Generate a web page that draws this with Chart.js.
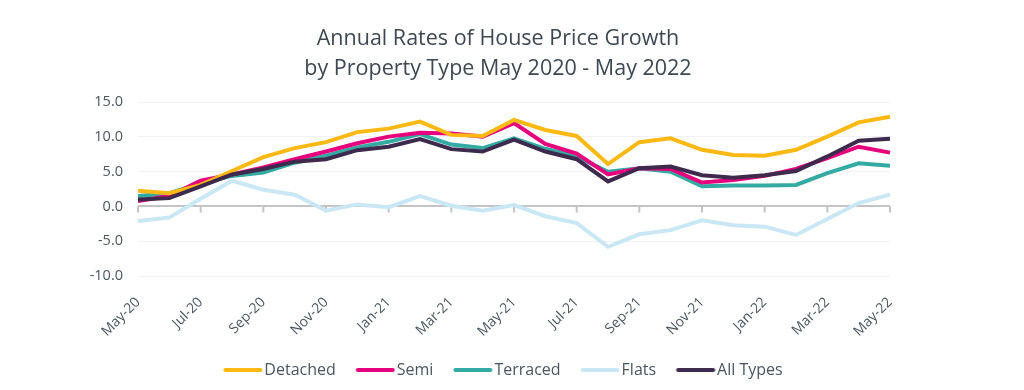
<!DOCTYPE html>
<html>
<head>
<meta charset="utf-8">
<script src="https://cdn.jsdelivr.net/npm/chart.js@4"></script>
<style>
html,body{margin:0;padding:0;background:#fff;}
#wrap{width:1024px;height:390px;}
</style>
</head>
<body>
<div id="wrap"><canvas id="c" width="1024" height="390"></canvas></div>
<script>
const months = ['May-20','Jun-20','Jul-20','Aug-20','Sep-20','Oct-20','Nov-20','Dec-20','Jan-21','Feb-21','Mar-21','Apr-21','May-21','Jun-21','Jul-21','Aug-21','Sep-21','Oct-21','Nov-21','Dec-21','Jan-22','Feb-22','Mar-22','Apr-22','May-22'];
const detached = [2.25,1.9,3.1,5.1,7.1,8.4,9.25,10.7,11.2,12.2,10.3,10.15,12.45,11.0,10.15,6.1,9.25,9.8,8.15,7.4,7.3,8.15,10.05,12.1,12.9];
const semi = [0.8,1.5,3.7,4.6,5.6,6.8,7.9,9.1,10.05,10.6,10.5,10.05,12.0,9.0,7.6,4.6,5.5,5.4,3.45,3.8,4.4,5.4,6.95,8.6,7.75];
const terraced = [1.5,1.9,3.3,4.4,4.9,6.3,7.3,8.5,9.3,10.4,8.9,8.4,9.8,8.3,7.2,5.0,5.5,5.0,2.9,3.0,3.0,3.1,4.8,6.2,5.85];
const flats = [-2.1,-1.6,1.1,3.7,2.4,1.7,-0.6,0.3,-0.1,1.5,0.1,-0.6,0.2,-1.4,-2.4,-5.8,-4.0,-3.4,-2.0,-2.7,-2.9,-4.1,-1.8,0.5,1.7];
const allTypes = [1.0,1.2,2.9,4.6,5.4,6.45,6.8,8.1,8.6,9.7,8.25,7.9,9.6,7.9,6.8,3.6,5.5,5.75,4.5,4.15,4.5,5.1,7.2,9.45,9.75];
const seriesNames = ['Detached','Semi','Terraced','Flats','All Types'];
const seriesColors = ['#FDB913','#E6007E','#33ABA3','#C9E8F4','#3E2A4C'];
const seriesOrder = [1,2,3,4,0];
const titleLines = ['Annual Rates of House Price Growth','by Property Type May 2020 - May 2022'];

const FONT = "'Open Sans', sans-serif";
const TXT = '#4a5660';

// legend swatch: a rounded bar, offset so the text sits close to it
function swatch(color) {
  const cv = document.createElement('canvas');
  cv.width = 56; cv.height = 6;
  const g = cv.getContext('2d');
  g.strokeStyle = color;
  g.lineWidth = 4;
  g.lineCap = 'round';
  g.beginPath();
  g.moveTo(18.5, 3);
  g.lineTo(53.5, 3);
  g.stroke();
  return cv;
}

const zeroTicks = {
  id: 'zeroTicks',
  beforeDatasetsDraw(chart) {
    const {ctx, scales:{x, y}} = chart;
    const y0 = y.getPixelForValue(0);
    ctx.save();
    ctx.strokeStyle = '#c4c4c4';
    ctx.lineWidth = 2;
    for (let i = 0; i < months.length; i += 2) {
      const px = x.getPixelForValue(i);
      ctx.beginPath();
      ctx.moveTo(px, y0);
      ctx.lineTo(px, y0 + 6);
      ctx.stroke();
    }
    ctx.restore();
  }
};

const datasets = [detached, semi, terraced, flats, allTypes].map((d, i) => ({
  label: seriesNames[i],
  data: d,
  borderColor: seriesColors[i],
  backgroundColor: seriesColors[i],
  borderWidth: 4,
  pointRadius: 0,
  pointStyle: swatch(seriesColors[i]),
  tension: 0,
  order: seriesOrder[i],
  fill: false,
  yAxisID: 'y'
}));

new Chart(document.getElementById('c'), {
  type: 'line',
  data: { labels: months, datasets },
  options: {
    responsive: false,
    animation: false,
    layout: { padding: { left: 0, right: 28, top: 0, bottom: 2 } },
    plugins: {
      title: {
        display: true,
        text: titleLines,
        color: '#3d4852',
        font: { family: FONT, size: 21.5, weight: 'normal', lineHeight: 1.4 },
        padding: { top: 24, bottom: 18 }
      },
      legend: {
        position: 'bottom',
        labels: {
          color: TXT,
          font: { family: FONT, size: 16 },
          usePointStyle: true,
          pointStyleWidth: 43,
          boxHeight: 6,
          padding: 10,
          sort: (a, b) => a.datasetIndex - b.datasetIndex
        }
      },
      tooltip: { enabled: false }
    },
    scales: {
      x: {
        grid: { display: false, drawTicks: false },
        border: { display: false },
        ticks: {
          color: TXT,
          font: { family: FONT, size: 14 },
          autoSkip: false,
          minRotation: 45,
          maxRotation: 45,
          padding: 18,
          callback: (v, i) => (i % 2 === 0 ? months[i] : '')
        },
        afterFit: s => { s.height = 76; }
      },
      y: {
        position: 'left',
        min: -10,
        max: 15,
        grid: {
          drawTicks: false,
          color: c => (c.tick && c.tick.value === 0 ? '#c4c4c4' : '#f1f1fa'),
          lineWidth: c => (c.tick && c.tick.value === 0 ? 2 : 1)
        },
        border: { display: false },
        ticks: {
          stepSize: 5,
          color: TXT,
          font: { family: FONT, size: 14.5 },
          padding: 15,
          callback: v => Number(v).toFixed(1)
        },
        afterFit: s => { s.width = 138; }
      },
      spacer: {
        type: 'linear',
        position: 'right',
        display: true,
        grid: { display: false, drawTicks: false },
        border: { display: false },
        ticks: { display: false },
        afterFit: s => { s.width = 106; }
      }
    }
  },
  plugins: [zeroTicks]
});
</script>
</body>
</html>
